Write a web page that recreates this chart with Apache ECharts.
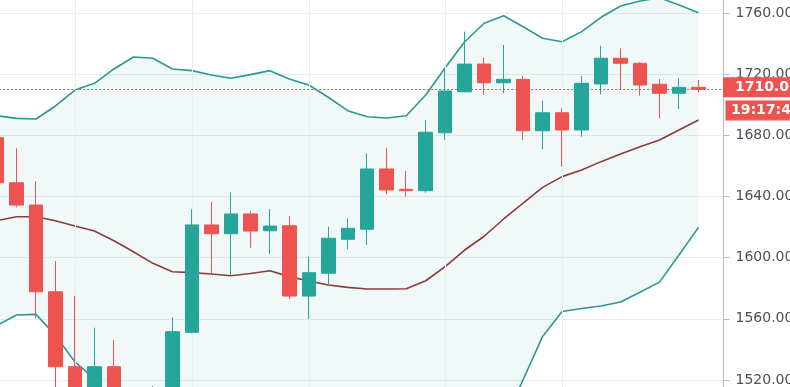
<!DOCTYPE html>
<html><head><meta charset="utf-8">
<script src="https://cdn.jsdelivr.net/npm/echarts@6/dist/echarts.min.js"></script>
<style>html,body{margin:0;padding:0;background:#fff;overflow:hidden}#c{width:790px;height:387px}</style>
</head><body><div id="c"></div>
<script>
// ---- data ----
const categories = ['01','02','03','04','05','06','07','08','09','10','11','12','13','14','15','16','17','18','19','20',
  '21','22','23','24','25','26','27','28','29','30','31','32','33','34','35','36','37','38'];
const dayStartCategories = ['05','11','17','24','30'];
const opens  = [1678.5,1649.0,1634.4,1577.7,1528.7,1505.0,1528.7,1510.0,1500.0,1512.0,1551.2,1621.4,1615.7,1628.6,1617.6,1620.9,1574.9,1589.8,1612.0,1618.6,
  1658.0,1644.7,1643.8,1681.7,1708.5,1726.6,1714.4,1716.6,1683.0,1694.8,1683.5,1713.6,1730.4,1727.1,1713.4,1707.5,1711.4];
const closes = [1649.0,1634.4,1577.7,1528.7,1505.0,1528.7,1510.0,1500.0,1512.0,1551.6,1621.4,1615.7,1628.6,1617.4,1620.7,1574.9,1590.2,1612.7,1619.2,1658.0,
  1644.3,1643.8,1682.0,1709.0,1726.6,1714.4,1716.6,1683.0,1694.8,1683.5,1714.0,1730.4,1727.1,1712.9,1707.5,1711.4,1710.07];
const lows   = [1646.0,1632.9,1560.4,1505.0,1495.0,1498.0,1500.0,1488.0,1494.0,1508.0,1550.5,1588.7,1588.0,1606.5,1602.4,1573.0,1559.9,1582.1,1605.5,1608.3,
  1641.4,1639.9,1642.5,1677.0,1708.1,1706.4,1707.5,1677.0,1670.9,1659.5,1679.1,1706.8,1710.3,1705.9,1691.1,1697.2,1708.3];
const highs  = [1683.0,1671.5,1650.1,1597.8,1575.1,1554.2,1546.2,1514.0,1516.1,1561.0,1631.6,1636.4,1642.7,1630.5,1631.8,1627.1,1600.6,1620.3,1625.7,1668.3,
  1671.9,1656.7,1690.0,1722.7,1747.8,1731.0,1739.1,1718.8,1702.6,1697.7,1718.8,1738.6,1736.9,1727.8,1716.8,1717.3,1716.2];
const upperBand = [1692.8,1691.1,1690.7,1699.2,1709.6,1714.0,1723.4,1731.2,1730.4,1723.4,1722.3,1719.5,1717.3,1719.7,1722.3,1716.8,1712.9,1704.9,1696.1,1692.2,
  1691.3,1692.8,1706.4,1724.2,1741.2,1753.3,1758.2,1751.0,1743.5,1741.2,1747.8,1757.2,1764.6,1767.8,1770.0,1765.2,1760.2];
const basisBand = [1624.2,1626.8,1626.8,1624.2,1620.7,1617.4,1611.1,1603.9,1596.3,1590.8,1590.2,1589.3,1588.2,1589.7,1591.5,1587.6,1584.7,1582.1,1580.6,1579.5,
  1579.5,1579.7,1584.9,1594.1,1605.0,1614.0,1625.3,1635.6,1646.0,1653.0,1657.3,1662.8,1667.8,1672.6,1677.0,1683.5,1690.0];
const lowerBand = [1555.6,1562.5,1562.9,1549.2,1531.8,1520.8,1498.8,1476.6,1462.2,1458.2,1458.1,1459.1,1459.1,1459.7,1460.7,1458.4,1456.5,1459.3,1465.1,1466.8,
  1467.7,1466.6,1463.4,1464.0,1468.8,1474.7,1492.4,1520.2,1548.5,1564.8,1566.8,1568.4,1571.0,1577.4,1584.0,1601.8,1619.8];
const lastPriceText = '1710.07';
const countdownText = '19:17:42';
const yTicks = {min: 1480, max: 1800, step: 40};

// ---- chart ----
const candleData = opens.map((o, i) => [o, closes[i], lows[i], highs[i]]);
const bandWidth = upperBand.map((u, i) => +(u - lowerBand[i]).toFixed(2));
const RED = '#ef5350', TEAL = '#26a69a';

const chart = echarts.init(document.getElementById('c'), null, {renderer: 'canvas'});
chart.setOption({
  animation: false,
  backgroundColor: '#ffffff',
  grid: {left: -12.74, width: 740.47, top: -48.17, height: 489.35, containLabel: false, outerBoundsMode: 'none'},
  xAxis: {
    type: 'category', data: categories, boundaryGap: true,
    axisLine: {show: false}, axisTick: {show: false}, axisLabel: {show: false}, splitLine: {show: false}
  },
  yAxis: {
    type: 'value', position: 'right', offset: -4.23,
    min: yTicks.min, max: yTicks.max, interval: yTicks.step, scale: true,
    axisLine: {show: true, lineStyle: {color: '#b8bcc4', width: 1}},
    axisTick: {show: true, length: 6, lineStyle: {color: '#b8bcc4'}},
    axisLabel: {color: '#4c505b', fontSize: 14, fontFamily: 'DejaVu Sans', margin: 12,
      formatter: v => v.toFixed(2)},
    splitLine: {show: true, lineStyle: {color: '#e8edf1', width: 1}}
  },
  series: [
    {name: 'bbBase', type: 'line', data: lowerBand, stack: 'bb', symbol: 'none', silent: true, z: 1,
      lineStyle: {opacity: 0},
      markLine: {silent: true, symbol: ['none', 'none'], label: {show: false},
        lineStyle: {color: '#e8edf1', width: 1, type: 'solid'},
        data: dayStartCategories.map(c => ({xAxis: c}))}},
    {name: 'bbFill', type: 'line', data: bandWidth, stack: 'bb', symbol: 'none', silent: true, z: 2,
      lineStyle: {opacity: 0}, areaStyle: {color: 'rgba(33,150,150,0.065)', opacity: 1}},
    {name: 'upper', type: 'line', data: upperBand, symbol: 'none', silent: true, z: 4,
      lineStyle: {color: '#2b9896', width: 1.6}},
    {name: 'lower', type: 'line', data: lowerBand, symbol: 'none', silent: true, z: 4,
      lineStyle: {color: '#2b9896', width: 1.6}},
    {name: 'basis', type: 'line', data: basisBand, symbol: 'none', silent: true, z: 4,
      lineStyle: {color: '#8c3a3c', width: 1.6}},
    {name: 'price', type: 'candlestick', data: candleData, barWidth: 14, z: 5,
      itemStyle: {color: TEAL, color0: RED, borderColor: TEAL, borderColor0: RED, borderWidth: 1},
      markLine: {silent: true, symbol: ['none', 'none'], label: {show: false},
        lineStyle: {color: RED, width: 1, type: [2, 2]},
        data: [{yAxis: closes[closes.length - 1]}]}}
  ]
});

const py = chart.convertToPixel({yAxisIndex: 0}, closes[closes.length - 1]);
chart.setOption({
  graphic: [
    {type: 'rect', z: 100, shape: {x: 723, y: py - 12, width: 70, height: 20}, style: {fill: RED}},
    {type: 'text', z: 101, x: 735, y: py - 2, style: {text: lastPriceText, fill: '#ffffff',
      font: 'bold 14px "DejaVu Sans"', verticalAlign: 'middle', align: 'left'}},
    {type: 'rect', z: 100, shape: {x: 725.5, y: py + 11, width: 68, height: 20},
      style: {fill: RED, stroke: '#f6a5a3', lineWidth: 1}},
    {type: 'text', z: 101, x: 731, y: py + 21, style: {text: countdownText, fill: '#ffffff',
      font: 'bold 14px "DejaVu Sans"', verticalAlign: 'middle', align: 'left'}}
  ]
});
</script>
</body></html>
